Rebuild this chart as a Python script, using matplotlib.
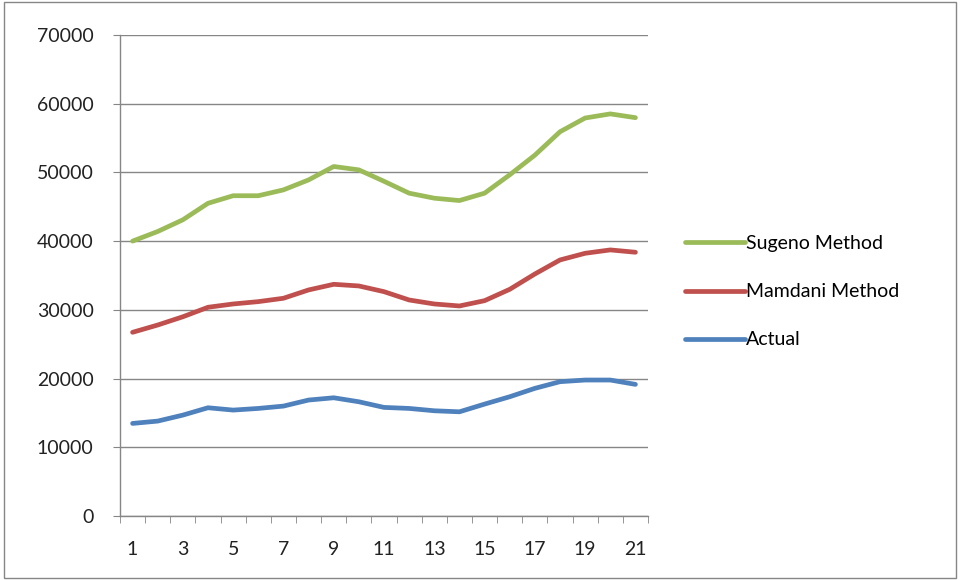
import numpy as np
import matplotlib.pyplot as plt
from matplotlib.patches import Rectangle

periods = list(range(1, 22))
sugeno = [40000, 41400, 43100, 45500, 46600, 46600, 47450, 48900, 50850, 50360,
          48700, 46970, 46240, 45900, 46970, 49640, 52500, 55900, 57900, 58500, 57950]
mamdani = [26740, 27800, 29000, 30380, 30860, 31200, 31690, 32900, 33720, 33480,
           32650, 31440, 30860, 30570, 31340, 32990, 35220, 37260, 38230, 38720, 38380]
actual = [13490, 13830, 14700, 15770, 15430, 15670, 16010, 16890, 17220, 16640,
          15820, 15670, 15330, 15180, 16300, 17370, 18590, 19560, 19800, 19800, 19170]

series_names = ["Sugeno Method", "Mamdani Method", "Actual"]
series_colors = ["#9BBB59", "#C0504D", "#4F81BD"]

plt.rcParams["font.family"] = ["Lato", "DejaVu Sans"]

fig = plt.figure(figsize=(9.6, 5.8), dpi=100)
ax = fig.add_axes([0.125, 0.110, 0.550, 0.830])

for vals, name, col in zip([sugeno, mamdani, actual], series_names, series_colors):
    ax.plot(periods, vals, color=col, lw=3.4, label=name,
            solid_joinstyle="round", solid_capstyle="round")

ax.set_xlim(0.5, 21.5)
ax.set_ylim(0, 70000)
ax.set_yticks(np.arange(0, 70001, 10000))
ax.set_xticks(periods[::2])
ax.set_xticks(np.arange(0.5, 21.6, 1), minor=True)
ax.tick_params(axis="x", which="major", length=0, pad=18, labelsize=14, colors="#222222")
ax.tick_params(axis="x", which="minor", length=5, color="#868686", direction="out")
ax.tick_params(axis="y", length=5, color="#868686", labelsize=14, pad=14, labelcolor="#222222")
ax.grid(axis="y", color="#868686", lw=1)
ax.set_axisbelow(True)
for s in ["top", "right"]:
    ax.spines[s].set_visible(False)
for s in ["left", "bottom"]:
    ax.spines[s].set_color("#868686")
    ax.spines[s].set_linewidth(1)

ax.legend(loc="center left", bbox_to_anchor=(1.036, 0.466), frameon=False,
          fontsize=14, handlelength=3.1, handletextpad=0.05, labelspacing=1.6)

fig.patches.append(Rectangle((0.004, 0.004), 0.992, 0.992, transform=fig.transFigure,
                             fill=False, edgecolor="#868686", lw=1))

fig.savefig("out.png", dpi=100)
